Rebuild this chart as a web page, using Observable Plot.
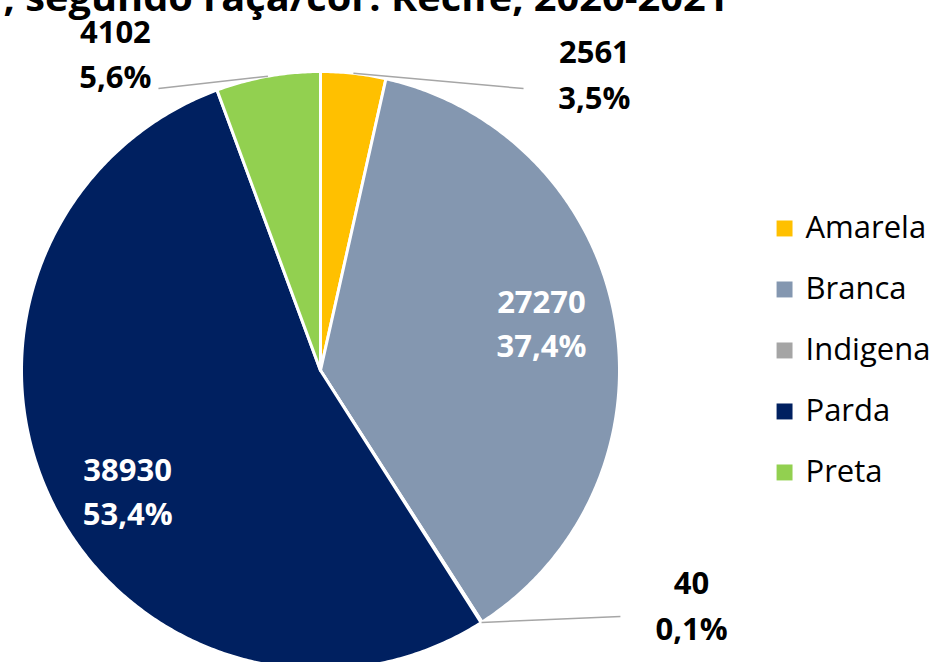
<!DOCTYPE html>
<html><head><meta charset="utf-8">
<script src="https://cdn.jsdelivr.net/npm/d3@7"></script>
<script src="https://cdn.jsdelivr.net/npm/@observablehq/plot@0.6"></script>
<style>html,body{margin:0;padding:0;background:#fff;overflow:hidden}</style>
</head><body><div id="chart"></div>
<script>
// ---- data ----
const categories = ["Amarela", "Branca", "Indigena", "Parda", "Preta"];
const values = [2561, 27270, 40, 38930, 4102];
const colors = ["#FFC000", "#8497B0", "#A5A5A5", "#002060", "#92D050"];
const titleText = ", segundo raça/cor. Recife, 2020-2021";

// ---- layout (chart units: pie radius = 1, centre at 0,0) ----
const insideLabels = {Branca: [0.739, 0.167], Parda: [-0.645, -0.395]};
const outsideLabels = {
  Amarela: {text: [0.916, 1.002], end: [0.679, 0.943]},
  Indigena: {text: [1.241, -0.774], end: [1.003, -0.823]},
  Preta: {text: [-0.686, 1.069], end: [-0.542, 0.943]}
};
const legendLayout = {swatchX: 1.552, textX: 1.622, top: 0.475, step: 0.204};
const font = "Open Sans";

// ---- derived ----
const total = d3.sum(values);
let acc = 0;
const slices = categories.map((c, i) => {
  const a0 = acc / total * 2 * Math.PI;
  acc += values[i];
  const a1 = acc / total * 2 * Math.PI;
  const pct = (values[i] / total * 100).toFixed(1).replace(".", ",") + "%";
  return {c, i, v: values[i], a0, a1, mid: (a0 + a1) / 2, label: values[i] + "\n" + pct};
});
const pts = slices.flatMap(s => {
  const n = Math.max(2, Math.ceil((s.a1 - s.a0) / (Math.PI / 360)));
  const arr = [{c: s.c, x: 0, y: 0}];
  for (let k = 0; k <= n; k++) {
    const a = s.a0 + (s.a1 - s.a0) * k / n;
    arr.push({c: s.c, x: Math.sin(a), y: Math.cos(a)});
  }
  arr.push({c: s.c, x: 0, y: 0});
  return arr;
});
const inside = slices.filter(s => insideLabels[s.c]);
const outside = slices.filter(s => outsideLabels[s.c]);

const chart = Plot.plot({
  width: 937,
  height: 662,
  margin: 0,
  style: {fontFamily: font, background: "#fff"},
  x: {domain: [-1, 1], range: [21, 619], axis: null},
  y: {domain: [-1, 1], range: [669, 71], axis: null},
  color: {type: "ordinal", domain: categories, range: colors},
  marks: [
    Plot.line(pts, {x: "x", y: "y", z: "c", fill: "c", stroke: "white", strokeWidth: 3, strokeLinejoin: "round"}),
    Plot.link(outside, {
      x1: d => Math.sin(d.mid), y1: d => Math.cos(d.mid),
      x2: d => outsideLabels[d.c].end[0], y2: d => outsideLabels[d.c].end[1],
      stroke: "#A6A6A6", strokeWidth: 1.5
    }),
    Plot.text(inside, {
      x: d => insideLabels[d.c][0], y: d => insideLabels[d.c][1], text: "label",
      fill: "white", fontSize: 31, fontWeight: "bold", lineHeight: 1.42, fontFamily: font
    }),
    Plot.text(outside, {
      x: d => outsideLabels[d.c].text[0], y: d => outsideLabels[d.c].text[1], text: "label",
      fill: "black", fontSize: 31, fontWeight: "bold", lineHeight: 1.48, fontFamily: font
    }),
    Plot.dot(slices, {
      x: () => legendLayout.swatchX, y: d => legendLayout.top - d.i * legendLayout.step,
      symbol: "square", r: 9, fill: "c", stroke: null
    }),
    Plot.text(slices, {
      x: () => legendLayout.textX, y: d => legendLayout.top - d.i * legendLayout.step,
      text: "c", textAnchor: "start", fill: "black", fontSize: 31, fontFamily: font
    }),
    Plot.text([titleText], {
      frameAnchor: "top-left", dx: 728, dy: 10, text: d => d, textAnchor: "end", lineAnchor: "bottom",
      fontSize: 38, fontWeight: "bold", fill: "black", fontFamily: font, className: "title"
    })
  ]
});
document.getElementById("chart").appendChild(chart);
d3.select(chart).selectAll(".title text").attr("textLength", 725).attr("lengthAdjust", "spacingAndGlyphs");
</script>
</body></html>
